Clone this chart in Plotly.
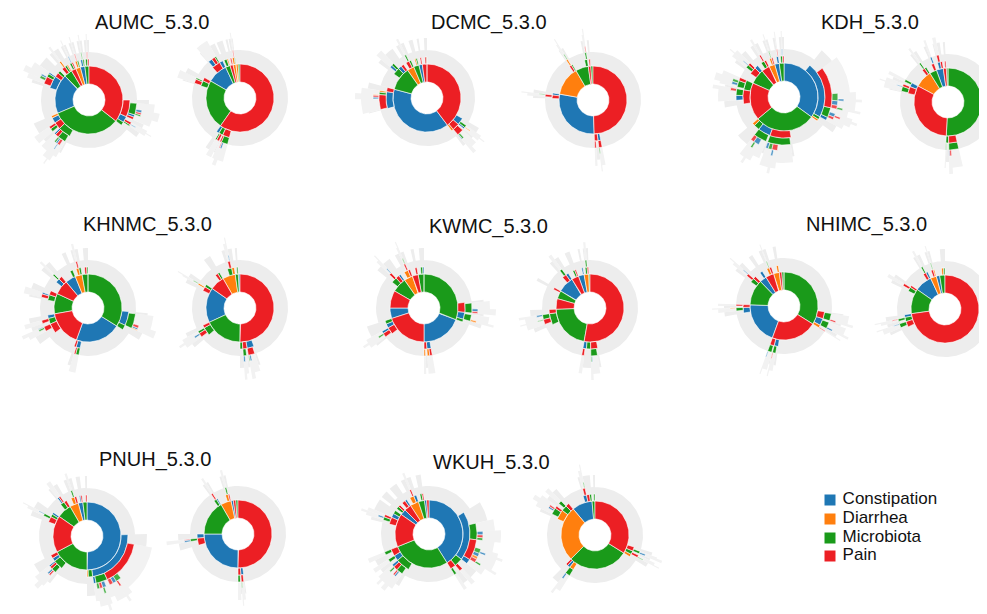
import math
import plotly.graph_objects as go

# ---------------- categories / legend ----------------
CATEGORIES = ["Constipation", "Diarrhea", "Microbiota", "Pain"]
CAT_KEYS = ["C", "D", "M", "P"]
COLORS = {"C": "#1f77b4", "D": "#ff7f0e", "M": "#1a9a1a", "P": "#ec1f24"}
GREY = "#ededed"
GREY_DEEP = "#f2f2f2"

SITES = ["AUMC_5.3.0", "DCMC_5.3.0", "KDH_5.3.0", "KHNMC_5.3.0",
         "KWMC_5.3.0", "NHIMC_5.3.0", "PNUH_5.3.0", "WKUH_5.3.0"]

# ---------------- sequence data (path -> angular size, degrees of 360) ----------------
AUMC_L_paths = ["P", "M", "C", "M2", "P2", "D", "C2", "M3",
                "P/P", "P/C", "P/M", "P/P/M", "P/P/C", "P/P/P", "P/P/M/C", "P/P/M/P", "P/P/M/M", "P/C/P", "P/C/M", "P/C/P/C",
                "M/M", "M/P", "M/C", "M/D", "M/M/M", "M/M/P", "M/M/C", "M/M/M/P", "M/M/M/C", "M/M/M/M", "M/M/M/P/C", "M/P/M", "M/P/P",
                "C/C", "C/P", "C/M", "C/C/P", "C/C/M", "C/C/C", "C/C/P/M", "C/C/P/C",
                "M2/P", "M2/M", "M2/D", "M2/P/D", "P2/M", "P2/P", "P2/M/C", "D/D", "D/M", "D/D/P", "C2/C", "C2/M", "C2/C/M", "M3/M", "M3/P", "M3/M/P"]
AUMC_L_vals = [128, 119, 68, 14, 8, 8, 8, 7,
               24, 9, 5, 14, 3, 3, 3, 2, 2, 3, 2, 1,
               18, 10, 8, 3, 10, 4, 2, 3, 2, 2, 1, 4, 3,
               18, 6, 4, 9, 4, 2, 3, 2,
               5, 3, 2, 2, 3, 2, 1, 3, 2, 1, 3, 2, 1, 3, 2, 1]

AUMC_R_paths = ["P", "M", "C", "M2", "P2", "D", "D2", "M3",
                "P/P", "P/M", "P/C", "P/P/M", "P/P/P", "P/P/M/C", "P/P/M/P", "P/M/P", "P/M/M",
                "M/M", "M/P", "M/M/P", "M/M/M",
                "C/P", "C/C", "C/P/C", "C/P/P", "C/P/M",
                "M2/M", "M2/D", "P2/P", "D/D", "D/M", "D/D/P"]
AUMC_R_vals = [215, 85, 35, 8, 5, 5, 4, 3,
               10, 6, 4, 8, 2, 2, 1, 3, 2,
               8, 5, 5, 2,
               12, 5, 5, 4, 2,
               4, 2, 2, 3, 1, 1]

DCMC_L_paths = ["P", "C", "M", "D", "M2", "C2", "P2",
                "P/C", "P/P", "P/D", "P/P/P", "P/C/M", "P/C/C", "P/P/P/M", "P/P/P/C", "P/C/M/D",
                "C/C", "C/P", "C/C/P", "C/C/M", "C/C/D", "C/C/P/C", "C/C/P/P", "C/C/P/D",
                "M/M", "M/C", "M/P", "M/M/C", "M/M/M",
                "D/P", "D/M", "D/P/M", "M2/D", "M2/M", "C2/P", "P2/P", "P2/M"]
DCMC_L_vals = [143, 142, 40, 12, 9, 6, 8,
               10, 10, 3, 8, 3, 2, 2, 1, 1,
               24, 6, 18, 3, 2, 2, 2, 1,
               10, 5, 4, 3, 3,
               5, 3, 2, 2, 2, 2, 2, 1]

DCMC_R_paths = ["P", "C", "D", "M", "P2", "M2",
                "P/C", "P/P", "P/C/P", "P/P/P", "P/C/P/M",
                "C/P", "C/C", "C/P/P", "C/P/P/M",
                "D/P", "D/M", "D/P/D", "D/P/D/M",
                "M/M", "M/M/M", "M/M/M/P", "P2/P"]
DCMC_R_vals = [178, 102, 50, 22, 4, 4,
               4, 5, 4, 2, 1,
               5, 3, 3, 1,
               3, 2, 2, 1,
               4, 2, 1, 2]

KDH_L_paths = ["C", "M", "P", "M2", "P2", "D", "C2", "M3",
               "C/C", "C/M", "C/D", "C/C/P", "C/C/M", "C/C/C", "C/C/P/M", "C/C/P/C", "C/C/P/P", "C/C/M/C", "C/C/M/P", "C/C/P/M/C", "C/C/P/P/M", "C/C/M/C/P",
               "M/P", "M/C", "M/M", "M/D", "M/P/M", "M/C/M", "M/C/M/C", "M/C/M/P", "M/P/M/P", "M/P/M/M", "M/P/M/C", "M/P/M/P/C", "M/C/M/C/M",
               "P/P", "P/M", "P/P/C", "P/P/M", "P/M/M", "P/M/P", "P/M/M/C", "P/M/M/M", "P/P/M/P",
               "M2/P", "M2/C", "M2/P/M", "M2/P/P", "M2/P/M/C",
               "P2/M", "P2/P", "P2/M/P", "D/D", "D/P", "D/D/M", "C2/C", "C2/C/P", "M3/M", "M3/P", "M3/M/C"]
KDH_L_vals = [126, 104, 64, 26, 14, 10, 8, 8,
              80, 4, 3, 50, 12, 4, 8, 5, 4, 4, 3, 2, 2, 2,
              30, 18, 8, 4, 28, 16, 6, 4, 6, 4, 3, 2, 2,
              20, 14, 6, 8, 8, 4, 3, 3, 3,
              10, 5, 4, 3, 1,
              5, 3, 2, 3, 2, 1, 3, 1, 3, 2, 1]

KDH_R_paths = ["M", "P", "D", "M2", "C", "P2", "M3",
               "M/P", "M/M", "M/P/M", "M/P/M/P", "M/P/M/C", "M/M/M",
               "P/P", "P/C", "P/P/M", "P/P/P", "P/C/M", "P/P/M/C",
               "D/P", "D/M", "D/P/M", "M2/P", "M2/P/C", "C/C", "C/P", "C/C/P", "P2/P"]
KDH_R_vals = [183, 115, 30, 12, 12, 5, 3,
              12, 4, 12, 2, 1, 1,
              10, 6, 6, 3, 3, 1,
              4, 3, 2, 4, 2, 4, 3, 3, 2]

KHNMC_L_paths = ["M", "C", "P", "M2", "P2", "C2", "D", "M3",
                 "M/C", "M/M", "M/C/M", "M/C/M/P", "M/C/M/C", "M/C/M/D",
                 "C/C", "C/P", "C/C/M", "C/C/P",
                 "P/P", "P/M", "P/C", "P/P/P", "P/M/P", "P/P/P/M", "P/P/P/C",
                 "M2/M", "M2/P", "M2/M/P", "M2/M/C",
                 "P2/C", "P2/P", "P2/C/M", "C2/M", "D/D", "D/M", "D/D/P", "M3/P", "M3/M"]
KHNMC_L_vals = [122, 78, 60, 35, 25, 18, 12, 10,
                20, 7, 18, 3, 2, 1,
                6, 3, 4, 2,
                14, 8, 5, 6, 4, 2, 1,
                8, 6, 4, 2,
                6, 5, 2, 4, 4, 3, 2, 3, 2]

KHNMC_R_paths = ["P", "M", "C", "P2", "D", "M2", "C2",
                 "P/C", "P/P", "P/M", "P/C/P", "P/P/M", "P/C/P/C", "P/C/P/M", "P/P/M/C",
                 "M/M", "M/P", "M/M/P", "M/M/M", "M/M/P/C",
                 "C/P", "C/M", "C/P/D", "C/P/D/M",
                 "P2/P", "P2/M", "D/M", "D/D", "D/M/P", "D/M/P/C", "M2/M"]
KHNMC_R_vals = [180, 65, 60, 25, 22, 5, 3,
                10, 6, 4, 8, 4, 2, 1, 2,
                12, 4, 5, 3, 2,
                6, 4, 2, 1,
                4, 3, 6, 4, 3, 1, 2]

KWMC_L_paths = ["M", "C", "P", "C2", "P2", "M2", "D", "P3", "M3",
                "M/P", "M/C", "M/M", "M/P/M", "M/C/M", "M/P/M/C", "M/P/M/P", "M/C/M/D",
                "C/C", "C/P", "C/C/P", "C/C/D", "C/P/D",
                "P/P", "P/C", "P/M", "P/P/P", "P/P/C", "P/P/P/M",
                "M2/M", "M2/P", "M2/C", "M2/M/P", "M2/M/P/C",
                "D/D", "D/P", "D/D/P", "D/D/P/M", "P3/P", "M3/M", "M3/C"]
KWMC_L_vals = [110, 70, 72, 18, 30, 25, 15, 10, 10,
               14, 10, 4, 12, 8, 3, 2, 2,
               6, 4, 3, 3, 2,
               10, 6, 5, 5, 3, 2,
               8, 5, 3, 3, 1,
               6, 3, 2, 1, 3, 3, 2]

KWMC_R_paths = ["P", "M", "P2", "M2", "C", "P3", "C2", "D", "M3",
                "P/P", "P/M", "P/C", "P/P/M", "P/C/P", "P/P/M/C", "P/P/M/M",
                "M/M", "M/P", "M/M/P", "M/M/M", "M/M/M/C", "M/M/P/M",
                "C/P", "C/C", "C/P/M", "P3/M", "P3/P", "D/M", "D/P", "D/M/M", "C2/C", "M2/P"]
KWMC_R_vals = [190, 78, 18, 14, 28, 12, 10, 8, 2,
               10, 6, 5, 8, 3, 1, 1,
               16, 6, 6, 6, 2, 1,
               6, 4, 3, 3, 2, 3, 2, 2, 2, 3]

NHIMC_L_paths = ["M", "P", "C", "M2", "C2", "P2", "D", "P3", "M3",
                 "M/P", "M/C", "M/D", "M/P/M", "M/C/M", "M/P/M/P", "M/C/M/C", "M/D/P",
                 "P/C", "P/P", "P/C/M", "P/P/M", "P/P/M/C", "P/C/M/P",
                 "C/C", "C/P", "C/C/M", "C/P/P", "C/C/M/D",
                 "M2/M", "M2/P", "M2/M/P", "M2/M/P/C",
                 "C2/C", "P2/D", "P2/P", "P2/D/M", "D/D"]
NHIMC_L_vals = [122, 78, 72, 44, 12, 14, 10, 4, 4,
                10, 10, 4, 9, 8, 2, 2, 1,
                6, 6, 4, 5, 1, 1,
                8, 4, 4, 2, 1,
                6, 4, 3, 1,
                4, 4, 3, 1, 3]

NHIMC_R_paths = ["P", "M", "C", "D", "C2", "M2",
                 "P/P", "P/M", "P/C", "P/P/M", "P/M/M", "P/P/M/C", "P/M/M/P",
                 "M/M", "M/P", "M/M/P", "C/P", "C/C", "C/P/M", "D/P", "D/D", "D/P/M", "M2/D", "M2/M"]
NHIMC_R_vals = [262, 43, 30, 10, 6, 9,
                8, 6, 4, 5, 3, 1, 1,
                6, 3, 3, 4, 3, 2, 3, 2, 1, 3, 2]

PNUH_L_paths = ["C", "M", "P", "M2", "D", "C2", "M3",
                "C/C", "C/M", "C/D", "C/C/P", "C/C/M", "C/C/C", "C/C/M/C", "C/C/M/P", "C/C/M/M", "C/C/P/M", "C/C/P/C", "C/C/P/P", "C/C/M/C/M", "C/C/P/M/P",
                "M/M", "M/C", "M/P", "M/M/M", "M/M/P", "M/M/C", "M/M/M/P", "M/M/M/C",
                "P/P", "P/M", "P/C", "P/P/M", "P/P/M/C",
                "M2/M", "M2/P", "M2/M/C", "M2/M/P",
                "D/D", "D/P", "D/D/M", "C2/C", "C2/P", "M3/P"]
PNUH_L_vals = [180, 62, 63, 25, 15, 8, 7,
               84, 6, 2, 55, 14, 3, 4, 3, 3, 6, 4, 4, 2, 2,
               14, 5, 5, 6, 3, 2, 2, 2,
               8, 4, 3, 3, 1,
               6, 4, 2, 2,
               5, 3, 2, 2, 2, 2]

PNUH_R_paths = ["P", "C", "M", "D", "C2", "P2", "M2",
                "P/C", "P/P", "P/C/P", "P/P/M", "P/C/P/M",
                "C/P", "C/C", "C/P/M", "C/P/M/C", "C/P/M/P",
                "M/M", "M/C", "M/M/P", "D/D", "D/P", "D/D/M"]
PNUH_R_vals = [180, 90, 60, 18, 4, 4, 4,
               4, 4, 3, 3, 1,
               10, 6, 3, 2, 1,
               4, 2, 2, 4, 2, 2]

WKUH_L_paths = ["C", "M", "P", "C2", "P2", "D", "M2", "C3", "P3",
                "C/C", "C/M", "C/P", "C/C/M", "C/C/P", "C/C/C", "C/C/M/C", "C/C/M/P", "C/C/M/M", "C/C/P/M", "C/C/P/C", "C/C/P/D", "C/C/P/P", "C/C/P/M/C", "C/C/P/P/M", "C/M/P", "C/P/M",
                "M/M", "M/C", "M/P", "M/M/M", "M/M/P", "M/M/C", "M/C/M", "M/P/M", "M/M/M/C", "M/M/M/P", "M/M/P/M",
                "P/P", "P/C", "P/M", "P/P/M", "P/P/P", "P/P/M/C",
                "C2/M", "C2/P", "P2/P", "P2/C", "D/D", "D/C", "D/D/P", "M2/M", "M2/P"]
WKUH_L_vals = [148, 100, 57, 10, 12, 15, 10, 4, 4,
               70, 12, 8, 20, 25, 6, 4, 3, 3, 5, 4, 3, 4, 2, 2, 4, 3,
               20, 8, 10, 8, 5, 3, 4, 4, 2, 2, 2,
               10, 6, 5, 4, 3, 2,
               4, 3, 5, 3, 6, 4, 2, 3, 2]

WKUH_R_paths = ["P", "M", "D", "C", "M2",
                "P/P", "P/M", "P/D", "P/P/M", "P/M/P", "P/P/M/C", "P/M/P/M",
                "M/D", "M/C", "M/P", "M/D/M", "M/D/M/C",
                "D/D", "D/M", "D/P", "D/D/M", "D/D/P", "D/M/M", "D/D/M/C", "D/D/M/P",
                "C/C", "C/P", "C/M", "C/C/P", "C/C/P/M", "M2/M"]
WKUH_R_vals = [122, 103, 95, 35, 5,
               6, 5, 4, 3, 3, 2, 1,
               6, 4, 3, 6, 2,
               14, 8, 5, 8, 3, 4, 2, 2,
               5, 4, 3, 3, 1, 2]

DIAGRAM_DATA = [
    (AUMC_L_paths, AUMC_L_vals), (AUMC_R_paths, AUMC_R_vals),
    (DCMC_L_paths, DCMC_L_vals), (DCMC_R_paths, DCMC_R_vals),
    (KDH_L_paths, KDH_L_vals), (KDH_R_paths, KDH_R_vals),
    (KHNMC_L_paths, KHNMC_L_vals), (KHNMC_R_paths, KHNMC_R_vals),
    (KWMC_L_paths, KWMC_L_vals), (KWMC_R_paths, KWMC_R_vals),
    (NHIMC_L_paths, NHIMC_L_vals), (NHIMC_R_paths, NHIMC_R_vals),
    (PNUH_L_paths, PNUH_L_vals), (PNUH_R_paths, PNUH_R_vals),
    (WKUH_L_paths, WKUH_L_vals), (WKUH_R_paths, WKUH_R_vals),
]

# ---------------- layout (pixel coordinates of the final picture) ----------------
W, H = 987, 614
PAGE_OFFSET = 8  # default body margin of the html page
CENTERS = [(89, 100), (240, 98), (427, 98), (593, 100), (784, 97), (948, 102),
           (88, 308), (240, 308), (424, 308), (590, 308), (784, 306), (945, 309),
           (87, 536), (238, 534), (429, 534), (595, 535)]
TITLE_POS = [(152, 22), (489, 22), (870, 22), (147, 224), (488, 226), (866, 224), (155, 459), (491, 462)]
RADII = [16, 34, 41, 48, 54, 60, 66, 72, 78, 84, 90, 96, 102]


def build(paths, vals):
    value = dict(zip(paths, vals))
    kids = {}
    for p in paths:
        parent = p.rsplit("/", 1)[0] if "/" in p else ""
        kids.setdefault(parent, []).append(p)
    wedges = []  # (key, depth, a0, a1, r0, r1)

    def place(path, depth, a0):
        v = value[path]
        key = path.split("/")[-1][0]
        wedges.append((key, depth, a0, a0 + v, RADII[depth - 1], RADII[depth]))
        ch = kids.get(path, [])
        s = sum(value[c] for c in ch)
        scale = 1.0 if s <= v else v / s
        end = max(0.0, v - s * scale)
        if end > 0:
            span = 2 if depth == 1 else 3
            wedges.append(("G", depth + 1, a0, a0 + end, RADII[depth],
                           RADII[min(depth + span, len(RADII) - 1)]))
        a = a0 + end
        for c in ch:
            value[c] = value[c] * scale
            place(c, depth + 1, a)
            a += value[c]

    a = 0.0
    for p in kids.get("", []):
        place(p, 1, a)
        a += value[p]
    return wedges


def polygon(cx, cy, a0, a1, r0, r1):
    n = max(2, int(abs(a1 - a0) / 2) + 2)
    angs = [a0 + (a1 - a0) * i / (n - 1) for i in range(n)]
    xs, ys = [], []
    for a in angs:
        t = math.radians(a)
        xs.append(cx + r1 * math.sin(t))
        ys.append(cy - r1 * math.cos(t))
    for a in reversed(angs):
        t = math.radians(a)
        xs.append(cx + r0 * math.sin(t))
        ys.append(cy - r0 * math.cos(t))
    xs.append(xs[0]); ys.append(ys[0])
    xs.append(None); ys.append(None)
    return xs, ys


groups = {}
for (paths, vals), (cx, cy) in zip(DIAGRAM_DATA, CENTERS):
    for key, depth, a0, a1, r0, r1 in build(list(paths), list(vals)):
        gk = (key, depth >= 4)
        xs, ys = polygon(cx, cy, a0, a1, r0, r1)
        g = groups.setdefault(gk, ([], []))
        g[0].extend(xs); g[1].extend(ys)

fig = go.Figure()
order = [("G", True), ("G", False)] + [(k, True) for k in CAT_KEYS] + [(k, False) for k in CAT_KEYS]
for gk in order:
    if gk not in groups:
        continue
    xs, ys = groups[gk]
    key, deep = gk
    if key == "G":
        col = GREY_DEEP if deep else GREY
        fig.add_trace(go.Scatter(x=xs, y=ys, mode="lines", fill="toself", fillcolor=col,
                                 line=dict(width=0, color=col), hoverinfo="skip", showlegend=False))
    else:
        fig.add_trace(go.Scatter(x=xs, y=ys, mode="lines", fill="toself", fillcolor=COLORS[key],
                                 line=dict(width=0.6, color="white"), hoverinfo="skip", showlegend=False,
                                 opacity=0.8 if deep else 1.0))

# legend
LEG_X = 830
LEG_Y = [500, 519, 538, 556]
fig.add_trace(go.Scatter(x=[LEG_X] * 4, y=LEG_Y, mode="markers+text",
                         marker=dict(symbol="square", size=11, color=[COLORS[k] for k in CAT_KEYS]),
                         text=[" " + c for c in CATEGORIES], textposition="middle right",
                         textfont=dict(family="Liberation Sans, Arial", size=17, color="#111111"),
                         hoverinfo="skip", showlegend=False, cliponaxis=False))

for name, (tx, ty) in zip(SITES, TITLE_POS):
    fig.add_annotation(x=tx, y=ty, xref="x", yref="y", text=name, showarrow=False,
                       font=dict(family="Liberation Sans, Arial", size=20, color="#111111"),
                       xanchor="center", yanchor="middle")

fig.update_xaxes(range=[PAGE_OFFSET, PAGE_OFFSET + W], visible=False, fixedrange=True)
fig.update_yaxes(range=[PAGE_OFFSET + H, PAGE_OFFSET], visible=False, fixedrange=True)
fig.update_layout(width=W, height=H, margin=dict(l=0, r=0, t=0, b=0),
                  paper_bgcolor="white", plot_bgcolor="white", showlegend=False)

fig.write_html("out.html")
